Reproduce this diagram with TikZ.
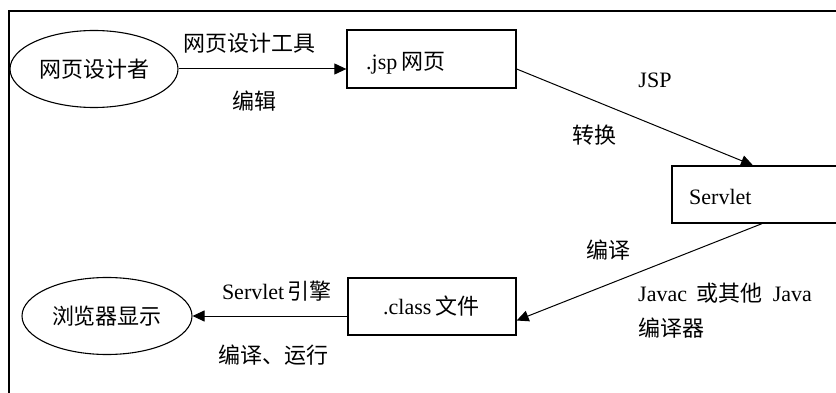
\documentclass[tikz,border=0pt]{standalone}
\usepackage{fontspec}
\setmainfont{Liberation Serif}
\newfontfamily\cjk{Noto Sans CJK SC}
\usetikzlibrary{arrows.meta,shapes.geometric}
\newcommand\cjkfont{\fontsize{22}{26}\selectfont\cjk}
\begin{document}
\begin{tikzpicture}[x=1pt,y=-1pt,
  ell/.style={draw, ellipse, line width=1.1pt, inner sep=0pt, font=\cjkfont},
  box/.style={draw, rectangle, line width=1.3pt, inner sep=0pt},
  txt/.style={inner sep=0pt, font=\fontsize{22}{26}\selectfont},
  lbl/.style={inner sep=0pt, font=\cjkfont},
  arr/.style={line width=1pt, -{Triangle[length=12pt,width=11pt]}}]
\useasboundingbox (0,0) rectangle (836,393);
\coordinate (fTR) at (840,11);
\coordinate (fTL) at (9,11);
\coordinate (fBL) at (9,397);
\draw[line width=2pt] (fTR) -- (fTL) -- (fBL);
% nodes
\node[ell, minimum width=168pt, minimum height=77pt] (des) at (94,69) {网页设计者};
\node[ell, minimum width=170pt, minimum height=77pt] (brw) at (107,316) {浏览器显示};
\node[box, minimum width=169pt, minimum height=58pt] (jsp) at (431.5,59) {};
\node[txt, anchor=west] (jspt) at (366,63) {.jsp\,{\cjkfont 网页}};
\node[box, minimum width=180pt, minimum height=57pt] (srv) at (762,194.5) {};
\node[txt, anchor=west] (srvt) at (689,197) {Servlet};
\node[box, minimum width=168pt, minimum height=57pt] (cls) at (432,306.5) {};
\node[txt, anchor=west] (clst) at (383,306) {.class\,{\cjkfont 文件}};
% connectors
\draw[arr] (des.east) -- (des.east -| jsp.west);
\draw[arr] ([yshift=-10pt]jsp.east) -- ([xshift=-9pt]srv.north);
\draw[arr] (srv.south) -- ([yshift=-14pt]cls.east);
\draw[arr] (cls.west |- brw.east) -- (brw.east);
% labels
\node[lbl] (l1) at (249,43) {网页设计工具};
\node[lbl] (l2) at (254,101) {编辑};
\node[txt] (l3) at (655,80) {JSP};
\node[lbl] (l4) at (594,135) {转换};
\node[lbl] (l5) at (608,250) {编译};
\node[txt, anchor=west] (l6) at (638,293) {Javac\hspace{0.45em}{\cjkfont 或其他}\hspace{0.45em}Java};
\node[lbl, anchor=west] (l7) at (638,328) {编译器};
\node[txt] (l8) at (277,291) {Servlet\,{\cjkfont 引擎}};
\node[lbl] (l9) at (273,355) {编译、运行};
\end{tikzpicture}
\end{document}
